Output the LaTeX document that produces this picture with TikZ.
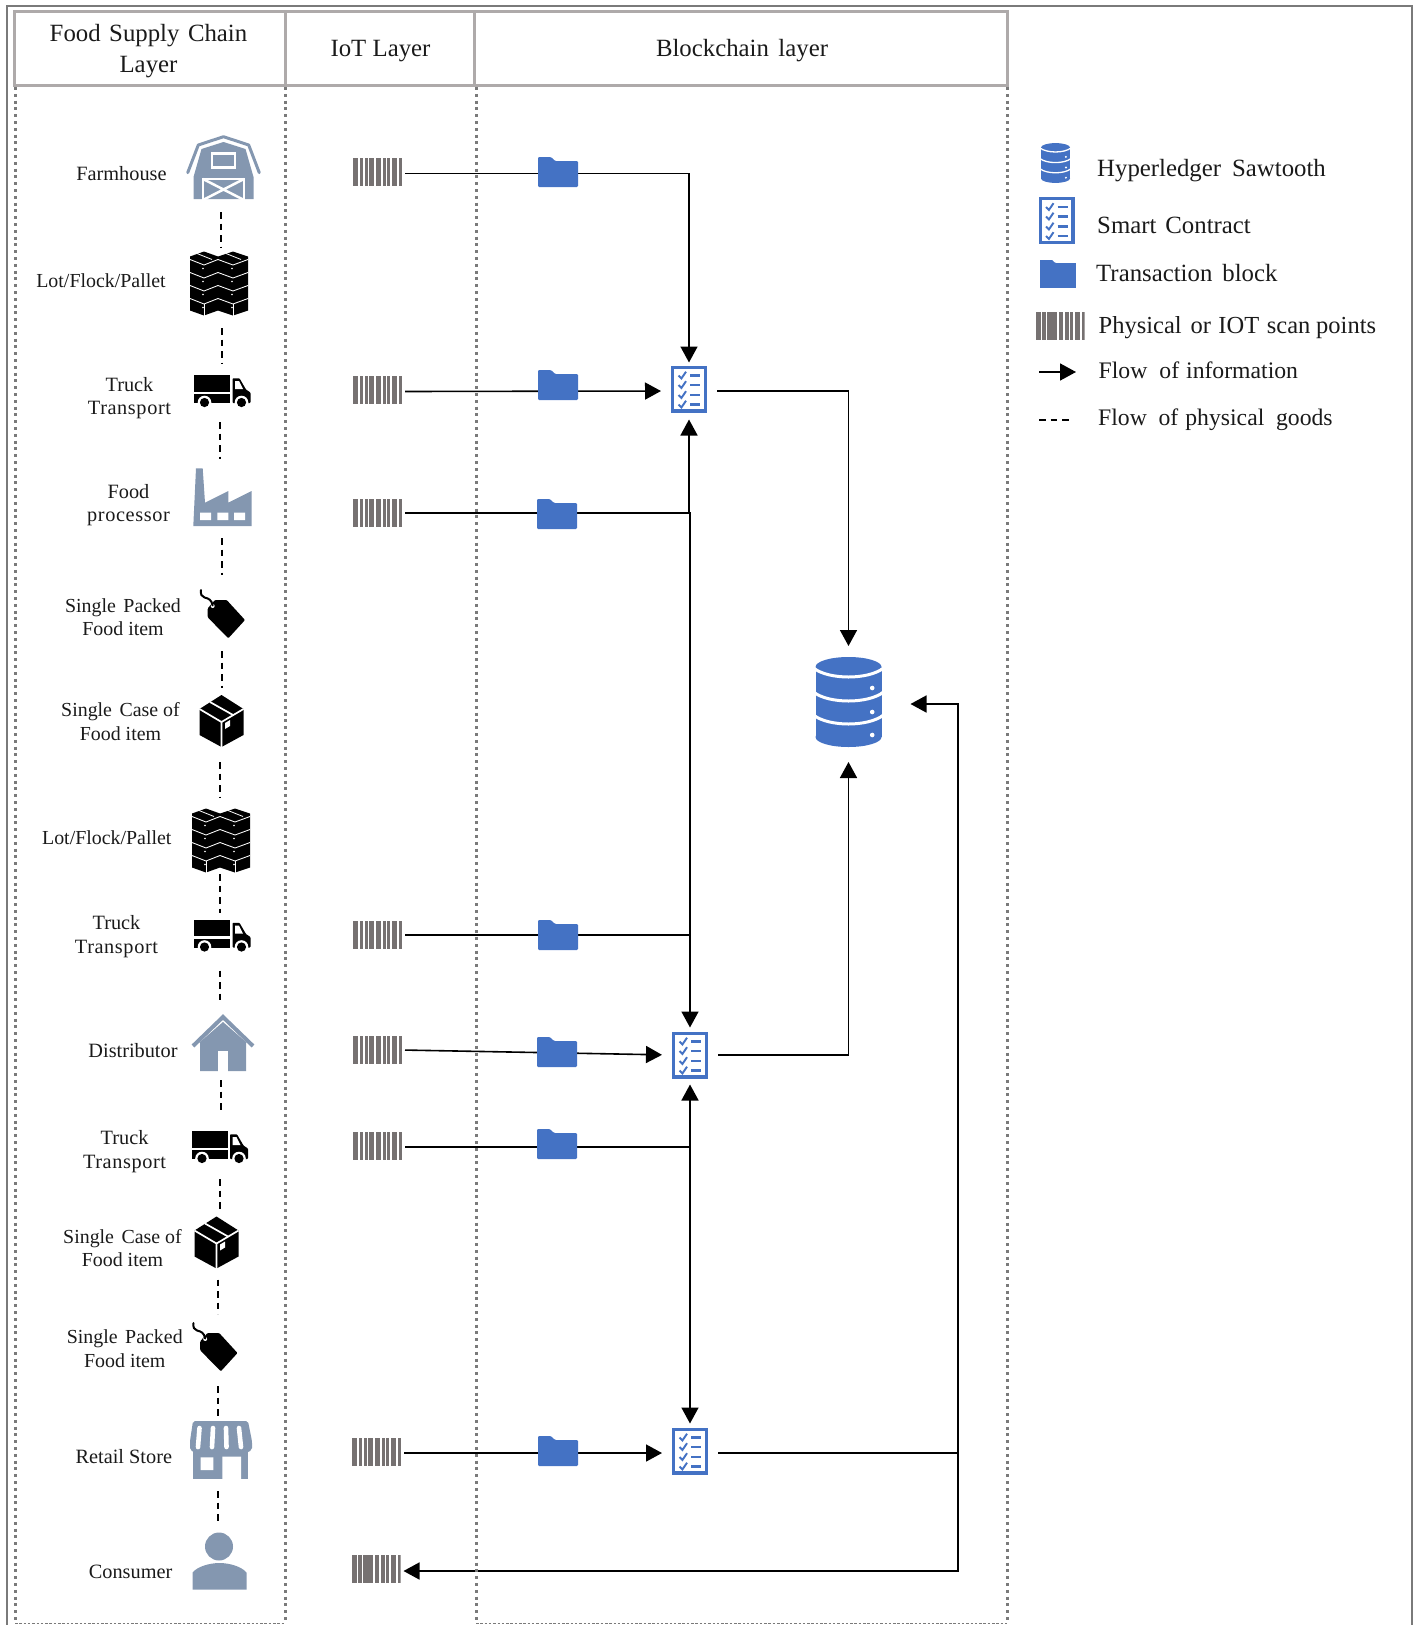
\documentclass[tikz,border=0pt]{standalone}
\usepackage{fontspec}
\setmainfont{Liberation Serif}
\usetikzlibrary{arrows.meta,backgrounds,calc}
\definecolor{blk}{HTML}{4472C4}
\definecolor{slate}{HTML}{8497B0}
\definecolor{barc}{HTML}{767171}
\definecolor{hdrc}{HTML}{AEAAAA}
\definecolor{framec}{HTML}{7A7A7A}
\definecolor{txt}{HTML}{1A1A1A}
\newcommand{\wsp}{\hspace{7.5pt}}
\newcommand{\gap}[1]{\hspace{#1pt}}
\newcommand{\wide}[1]{{\addfontfeatures{LetterSpace=3}#1}}
\newcommand{\iconscope}[1]{\begin{scope}[shift={(path picture bounding box.center)},scale=#1]}
\tikzset{
  x=1pt,y=-1pt,
  icon/.style={rectangle,inner sep=0pt,outer sep=0pt,draw=none},
  lbl/.style={inner sep=0pt,align=center,text=txt,font=\fontsize{20.3}{23.5}\selectfont},
  lbs/.style={inner sep=0pt,align=center,text=txt,font=\fontsize{19.9}{23.5}\selectfont},
  leg/.style={inner sep=0pt,anchor=west,text=txt,font=\fontsize{24.8}{28}\selectfont},
  legb/.style={inner sep=0pt,anchor=west,text=txt,font=\fontsize{23.7}{28}\selectfont},
  hdr/.style={rectangle,draw=hdrc,line width=3pt,inner sep=0pt},
  hdt/.style={inner sep=0pt,align=center,text=txt,font=\fontsize{24.8}{31}\selectfont},
  dotcol/.style={draw=framec,line width=3pt,dash pattern=on 3pt off 3.8pt},
  botline/.style={draw=framec,line width=1.5pt,dash pattern=on 2.5pt off 1.8pt},
  flow/.style={draw=black,line width=1.6pt,-{Triangle[length=16pt,width=17pt]}},
  plainflow/.style={draw=black,line width=1.6pt},
  goods/.style={draw=black,line width=1.5pt,dash pattern=on 6.5pt off 5pt},
  barcodeicon/.style={icon,minimum width=49pt,minimum height=28pt,path picture={
    \iconscope{1}
    \foreach \a/\b in {0/5,6.7/10,11.7/15,15.7/21,23/27.7,29.7/33,34/37,39/44,46/49}
      \fill[barc] (\a-24.5,-14) rectangle (\b-24.5,14);
    \end{scope}}},
  foldericon/.style={icon,minimum width=42pt*#1,minimum height=32pt*#1,path picture={
    \iconscope{#1}
    \fill[blk,rounded corners=1.2pt] (-20,-15) -- (-7,-15) -- (-3,-11) -- (20,-11) -- (20,15) -- (-20,15) -- cycle;
    \end{scope}}},
  contracticon/.style={icon,minimum width=38pt,minimum height=49pt,path picture={
    \iconscope{1}
    \draw[blk,line width=3.4pt,fill=white] (-16.3,-21.8) rectangle (16.3,21.8);
    \foreach \r in {-13.5,-4,6,15.5}{
      \draw[blk,line width=1.9pt] (-10.5,\r) -- (-7.6,\r+3) -- (-3,\r-3.8);
      \draw[blk,line width=2.6pt] (1,\r) -- (11,\r);
    }
    \end{scope}}},
  dbicon/.style={icon,minimum width=68pt,minimum height=92pt,path picture={
    \iconscope{1}
    \fill[blk] (0,-35) ellipse [x radius=33,y radius=10];
    \fill[blk] (0,35) ellipse [x radius=33,y radius=10];
    \fill[blk] (-33,-35) rectangle (33,35);
    \foreach \yy in {-34,-10,13}{
      \draw[white,line width=3pt] (-35,\yy) .. controls (-20,\yy+12) and (20,\yy+12) .. (35,\yy);
      \fill[white] (23.7,\yy+20) circle (2.3);
    }
    \end{scope}}},
  dbsmallicon/.style={icon,minimum width=31pt,minimum height=42pt,path picture={
    \iconscope{1}
    \fill[blk] (0,-15.5) ellipse [x radius=14.5,y radius=4.4];
    \fill[blk] (0,15.5) ellipse [x radius=14.5,y radius=4.4];
    \fill[blk] (-14.5,-15.5) rectangle (14.5,15.5);
    \foreach \yy in {-15,-4.4,5.8}{
      \draw[white,line width=1.3pt] (-15.4,\yy) .. controls (-8.8,\yy+5.3) and (8.8,\yy+5.3) .. (15.4,\yy);
      \fill[white] (10.4,\yy+8.9) circle (1.1);
    }
    \end{scope}}},
  barnicon/.style={icon,minimum width=77pt,minimum height=66pt,path picture={
    \iconscope{1}
    \draw[slate,line width=3pt,line join=round,line cap=round] (-35.8,5.7) -- (-25.2,-22) -- (0,-30.3) -- (25.2,-22) -- (35.8,5.7);
    \fill[slate] (-30,32) -- (-30,10) -- (-22,-18) -- (0,-25) -- (22,-18) -- (30,10) -- (30,32) -- cycle;
    \draw[white,line width=2.5pt] (-11.5,-13.5) rectangle (11.5,0.5);
    \draw[white,line width=2.5pt] (-20.5,12) rectangle (20.5,34);
    \draw[white,line width=2.5pt] (-20.5,12) -- (20.5,33) (20.5,12) -- (-20.5,33);
    \end{scope}}},
  loticon/.style={icon,minimum width=60pt,minimum height=67pt,path picture={
    \iconscope{1}
    \fill[black] (-29,-27) -- (-15,-32) -- (-1,-27) -- (14,-32) -- (29,-27) -- (29,27) -- (14,32) -- (-1,27) -- (-15,32) -- (-29,27) -- cycle;
    \foreach \yy in {-24,-11,2,15}{
      \draw[white,line width=.85pt] (-29,\yy) -- (-15,\yy+5.5) -- (-1,\yy) -- (14,\yy+5.5) -- (29,\yy);
      \fill[white] (-16,\yy+9) circle (.9) (13,\yy+9) circle (.9);
    }
    \draw[white,line width=1pt] (-15,20.5) -- (-15,32) (14,20.5) -- (14,32);
    \draw[white,line width=.8pt] (-22,-30) -- (-7,-24) (7,-30) -- (22,-24);
    \end{scope}}},
  truckicon/.style={icon,minimum width=59pt,minimum height=35pt,path picture={
    \iconscope{1}
    \fill[black] (-28.5,-16.5) rectangle (7.5,0.2);
    \fill[black] (-28.5,2.5) rectangle (7.5,11.5);
    \fill[black,rounded corners=.8pt] (10,-13.2) -- (17,-13.2) -- (23.5,-2) -- (28,1) -- (28,11.5) -- (10,11.5) -- cycle;
    \fill[white] (12.7,-10.5) -- (16.5,-10.5) -- (20.5,-2.5) -- (12.7,-2.5) -- cycle;
    \foreach \c in {-18,19}{
      \fill[white] (\c,11) circle (6.8);
      \fill[black] (\c,11) circle (4.6);
    }
    \end{scope}}},
  factoryicon/.style={icon,minimum width=61pt,minimum height=60pt,path picture={
    \iconscope{1}
    \fill[slate] (-29.2,29) -- (-26.5,-28.7) -- (-19.8,-28.7) -- (-17.5,5.7) -- (5.8,-6) -- (5.8,5.7) -- (29.2,-6) -- (29.2,29) -- cycle;
    \fill[white] (-22.5,15.7) rectangle (-11.5,23) (-5.2,15.7) rectangle (5.8,23) (11.5,15.7) rectangle (22.5,23);
    \end{scope}}},
  tagicon/.style={icon,minimum width=47pt,minimum height=51pt,path picture={
    \iconscope{1}
    \fill[black,rounded corners=1pt] (-7.5,-13.5) -- (4.2,-13.5) -- (22.5,6.5) -- (5.8,24.8) -- (-14.8,3.8) -- (-14.8,-5.2) -- cycle;
    \fill[white] (-9.8,-7.5) circle (2);
    \draw[black,line width=2pt,line cap=round] (-9.8,-8) .. controls (-11,-14) and (-14,-15) .. (-18,-16) .. controls (-21,-17) and (-22,-19) .. (-21.5,-23.5);
    \end{scope}}},
  boxicon/.style={icon,minimum width=47pt,minimum height=54pt,path picture={
    \iconscope{1}
    \fill[black] (0,-26) -- (22,-12) -- (22,14) -- (0,26) -- (-22,14) -- (-22,-12) -- cycle;
    \draw[white,line width=1.7pt] (-22,-12) -- (0,1) -- (22,-12) (0,1) -- (0,27);
    \draw[white,line width=1.7pt] (-11.5,-19) -- (11.5,-6);
    \fill[white] (3.5,2) -- (8.5,-1) -- (8.5,5) -- (3.5,8) -- cycle;
    \end{scope}}},
  houseicon/.style={icon,minimum width=66pt,minimum height=58pt,path picture={
    \iconscope{1}
    \fill[slate] (-23,28) -- (-23,-1) -- (0,-21) -- (23,-1) -- (23,28) -- cycle;
    \draw[slate,line width=4pt] (-30,3) -- (0,-26) -- (30,3);
    \fill[white] (-5,8) rectangle (5,29);
    \end{scope}}},
  storeicon/.style={icon,minimum width=64pt,minimum height=60pt,path picture={
    \iconscope{1}
    \fill[slate] (-27.7,0) rectangle (27.3,29);
    \fill[white] (-20.3,7.3) rectangle (-7.7,20) (1.3,6.7) rectangle (20,30);
    \fill[slate,rounded corners=2pt] (-28,-29) -- (27,-29) -- (31,-9) -- (31,0) -- (25,3) -- (-25,3) -- (-31,0) -- (-31,-9) -- cycle;
    \draw[white,line width=4.6pt,line cap=round] (-21.5,-22) -- (-23,-3) (-8,-22) -- (-9,-3) (5,-22) -- (5.5,-3) (18,-22) -- (20,-3);
    \end{scope}}},
  personicon/.style={icon,minimum width=57pt,minimum height=63pt,path picture={
    \iconscope{1}
    \fill[slate] (-0.5,-15) circle (14);
    \fill[slate] (-27,28) -- (-27,11) .. controls (-22,5) and (-10,1.5) .. (0,1.5) .. controls (10,1.5) and (22,5) .. (27,11) -- (27,28) -- cycle;
    \end{scope}}},
}
\begin{document}
\begin{tikzpicture}
\useasboundingbox (0,0) rectangle (1418,1625);
% outer frame
\coordinate (fbl) at (7,1625); \coordinate (ftl) at (7,6); \coordinate (ftr) at (1411.5,6); \coordinate (fbr) at (1411.5,1625);
\draw[framec,line width=2pt] (fbl) -- (ftl) -- (ftr) -- (fbr);
% header
\node[hdr,minimum width=271pt,minimum height=74pt] (h1) at (150.2,48) {};
\node[hdr,minimum width=188.5pt,minimum height=74pt] (h2) at (379.75,48) {};
\node[hdr,minimum width=533pt,minimum height=74pt] (h3) at (740.5,48) {};
\node[hdt] (h1t) at (148.5,51) {Food\gap{8.5}Supply\gap{8.5}Chain\\Layer};
\node[hdt] (h2t) at (380.5,51.5) {IoT Layer};
\node[hdt] (h3t) at (742,50.5) {Blockchain\gap{9.5}layer};
% columns
\coordinate (c1) at (15,1623.5); \coordinate (c2) at (285.5,1623.5); \coordinate (c3) at (476,1623.5); \coordinate (c4) at (1007,1623.5);
\draw[dotcol] (15,87) -- (c1);
\draw[dotcol] (285.5,87) -- (c2);
\draw[dotcol] (476,87) -- (c3);
\draw[dotcol] (1007,87) -- (c4);
\draw[botline] (c1) -- (c2);
\draw[botline] (c3) -- (c4);
% chain icons
\node[barnicon] (barn) at (223.5,167) {};
\node[loticon] (lota) at (219,283.5) {};
\node[truckicon] (tra) at (222.5,391.5) {};
\node[factoryicon] (fac) at (222.5,497) {};
\node[tagicon] (taga) at (222.5,613.5) {};
\node[boxicon] (boxa) at (221.5,721) {};
\node[loticon] (lotb) at (221,840.5) {};
\node[truckicon] (trb) at (222.5,936) {};
\node[houseicon] (house) at (223,1043) {};
\node[truckicon] (trc) at (220,1147.5) {};
\node[boxicon] (boxb) at (216.5,1242.5) {};
\node[tagicon] (tagb) at (215,1346.5) {};
\node[storeicon] (store) at (221,1450) {};
\node[personicon] (person) at (219.5,1561.5) {};
% chain labels
\node[lbl] (l1) at (121.5,174) {Farmhouse};
\node[lbs] (l2) at (101,281) {Lot/Flock/Pallet};
\node[lbl] (l3) at (129.5,398) {Truck\\\wide{Transport}};
\node[lbl] (l4) at (128.5,505) {Food\\\wide{processor}};
\node[lbs] (l5) at (123,617) {Single\wsp Packed\\Food item};
\node[lbs] (l6) at (120.5,721.5) {Single\wsp Case of\\Food item};
\node[lbs] (l7) at (106.8,838) {Lot/Flock/Pallet};
\node[lbl] (l8) at (116.5,936.5) {Truck\\\wide{Transport}};
\node[lbl] (l9) at (133,1051) {Distributor};
\node[lbl] (l10) at (124.6,1151.5) {Truck\\\wide{Transport}};
\node[lbs] (l11) at (122.5,1248) {Single\wsp Case of\\Food item};
\node[lbs] (l12) at (124.8,1348.5) {Single\wsp Packed\\Food item};
\node[lbl] (l13) at (123.8,1457) {Retail Store};
\node[lbl] (l14) at (130.6,1572) {Consumer};
% IoT
\node[barcodeicon] (bca) at (377.5,172) {};
\node[barcodeicon] (bcb) at (377.5,390) {};
\node[barcodeicon] (bcc) at (377.5,513) {};
\node[barcodeicon] (bcd) at (377.5,935) {};
\node[barcodeicon] (bce) at (377.5,1050) {};
\node[barcodeicon] (bcf) at (377.5,1146) {};
\node[barcodeicon] (bcg) at (376.5,1452) {};
\node[barcodeicon] (bch) at (376,1569) {};
% folders
\node[foldericon=1] (fa) at (558,172) {};
\node[foldericon=1] (fb) at (558,385) {};
\node[foldericon=1] (fc) at (557,514) {};
\node[foldericon=1] (fd) at (558,935) {};
\node[foldericon=1] (fe) at (557,1052) {};
\node[foldericon=1] (ff) at (557,1144) {};
\node[foldericon=1] (fg) at (558,1451) {};
% contracts
\node[contracticon] (cta) at (689,389) {};
\node[contracticon] (ctb) at (690,1055) {};
\node[contracticon] (ctc) at (690,1451) {};
% ledger
\node[dbicon] (db) at (848.5,702) {};
\coordinate (busx) at (958,1453);
% connectors
\begin{pgfonlayer}{background}
\draw[flow,shorten <=3pt,shorten >=2pt] ([yshift=-1.5pt]bca.east) -| (cta.north);
\draw[flow,shorten <=3pt,shorten >=9pt] ([yshift=-1.5pt]bcb.east) -- ([yshift=-2pt]cta.west);
\draw[flow,shorten <=3pt,shorten >=6pt] (bcc.east) -| (cta.south);
\draw[flow,shorten <=3pt,shorten >=3pt] (bcc.east) -| (ctb.north);
\draw[plainflow,shorten <=3pt] (bcd.east) -- (ctb.north |- bcd.east);
\draw[flow,shorten <=3pt,shorten >=9pt] (bce.east) -- (ctb.west);
\draw[flow,shorten <=3pt,shorten >=5pt] ([yshift=-1pt]bcf.east) -| (ctb.south);
\draw[flow,shorten <=3pt,shorten >=3pt] ([yshift=-1pt]bcf.east) -| (ctc.north);
\draw[flow,shorten <=3pt,shorten >=9pt] ([yshift=-1pt]bcg.east) -- ([yshift=-2pt]ctc.west);
\draw[flow,shorten <=9pt,shorten >=10pt] ([yshift=-2pt]cta.east) -| (db.north);
\draw[flow,shorten <=9pt,shorten >=14pt] (ctb.east) -| (db.south);
\draw[flow,shorten <=9pt,shorten >=28pt] ([yshift=-2pt]ctc.east) -- (busx) |- ([yshift=-2pt]db.east);
\draw[flow,shorten >=3pt] (busx) |- ([yshift=-2pt]bch.east);
\end{pgfonlayer}
% physical goods
\draw[goods,shorten <=12pt,shorten >=2pt] (221,0 |- barn.south) -- (221,0 |- lota.north);
\draw[goods,shorten <=11pt,shorten >=11pt] (222,0 |- lota.south) -- (222,0 |- tra.north);
\draw[goods,shorten <=13pt,shorten >=8pt] (220,0 |- tra.south) -- (220,0 |- fac.north);
\draw[goods,shorten <=11pt,shorten >=13pt] (222,0 |- fac.south) -- (222,0 |- taga.north);
\draw[goods,shorten <=12pt,shorten >=6pt] (222,0 |- taga.south) -- (222,0 |- boxa.north);
\draw[goods,shorten <=14pt,shorten >=9pt] (220,0 |- boxa.south) -- (220,0 |- lotb.north);
\draw[goods,shorten >=6pt] (220,0 |- lotb.south) -- (220,0 |- trb.north);
\draw[goods,shorten <=17pt,shorten >=11pt] (220,0 |- trb.south) -- (220,0 |- house.north);
\draw[goods,shorten <=8pt,shorten >=17pt] (221,0 |- house.south) -- (221,0 |- trc.north);
\draw[goods,shorten <=14pt,shorten >=3pt] (220,0 |- trc.south) -- (220,0 |- boxb.north);
\draw[goods,shorten <=10pt,shorten >=7pt] (218,0 |- boxb.south) -- (218,0 |- tagb.north);
\draw[goods,shorten <=14pt] (218,0 |- tagb.south) -- (218,0 |- store.north);
\draw[goods,shorten <=11pt,shorten >=5pt] (218,0 |- store.south) -- (218,0 |- person.north);
% legend
\node[dbsmallicon] (ldb) at (1055.5,163) {};
\node[contracticon] (lct) at (1056.5,220.5) {};
\node[foldericon=0.85] (lfo) at (1058,274) {};
\node[barcodeicon] (lbc) at (1060,325.5) {};
\coordinate (lfa) at (1039,372); \coordinate (lfb) at (1076,372);
\draw[flow] (lfa) -- (lfb);
\coordinate (lga) at (1039,420); \coordinate (lgb) at (1071,420);
\draw[goods] (lga) -- (lgb);
\node[leg] (t1) at (1097,170.5) {Hyperledger\gap{11}Sawtooth};
\node[leg] (t2) at (1097,225.5) {Smart\gap{9}Contract};
\node[leg] (t3) at (1096,273) {Transaction\gap{10}block};
\node[leg,font=\fontsize{24.5}{28}\selectfont] (t4) at (1098.5,328) {Physical\gap{9}or\gap{7.3}IOT\gap{7.7}scan\gap{5.7}points};
\node[legb] (t5) at (1098.5,370) {Flow\gap{12}of\gap{7}information};
\node[legb] (t6) at (1098,420) {Flow\gap{11.7}of\gap{7}physical\gap{11.7}goods};
\end{tikzpicture}
\end{document}
